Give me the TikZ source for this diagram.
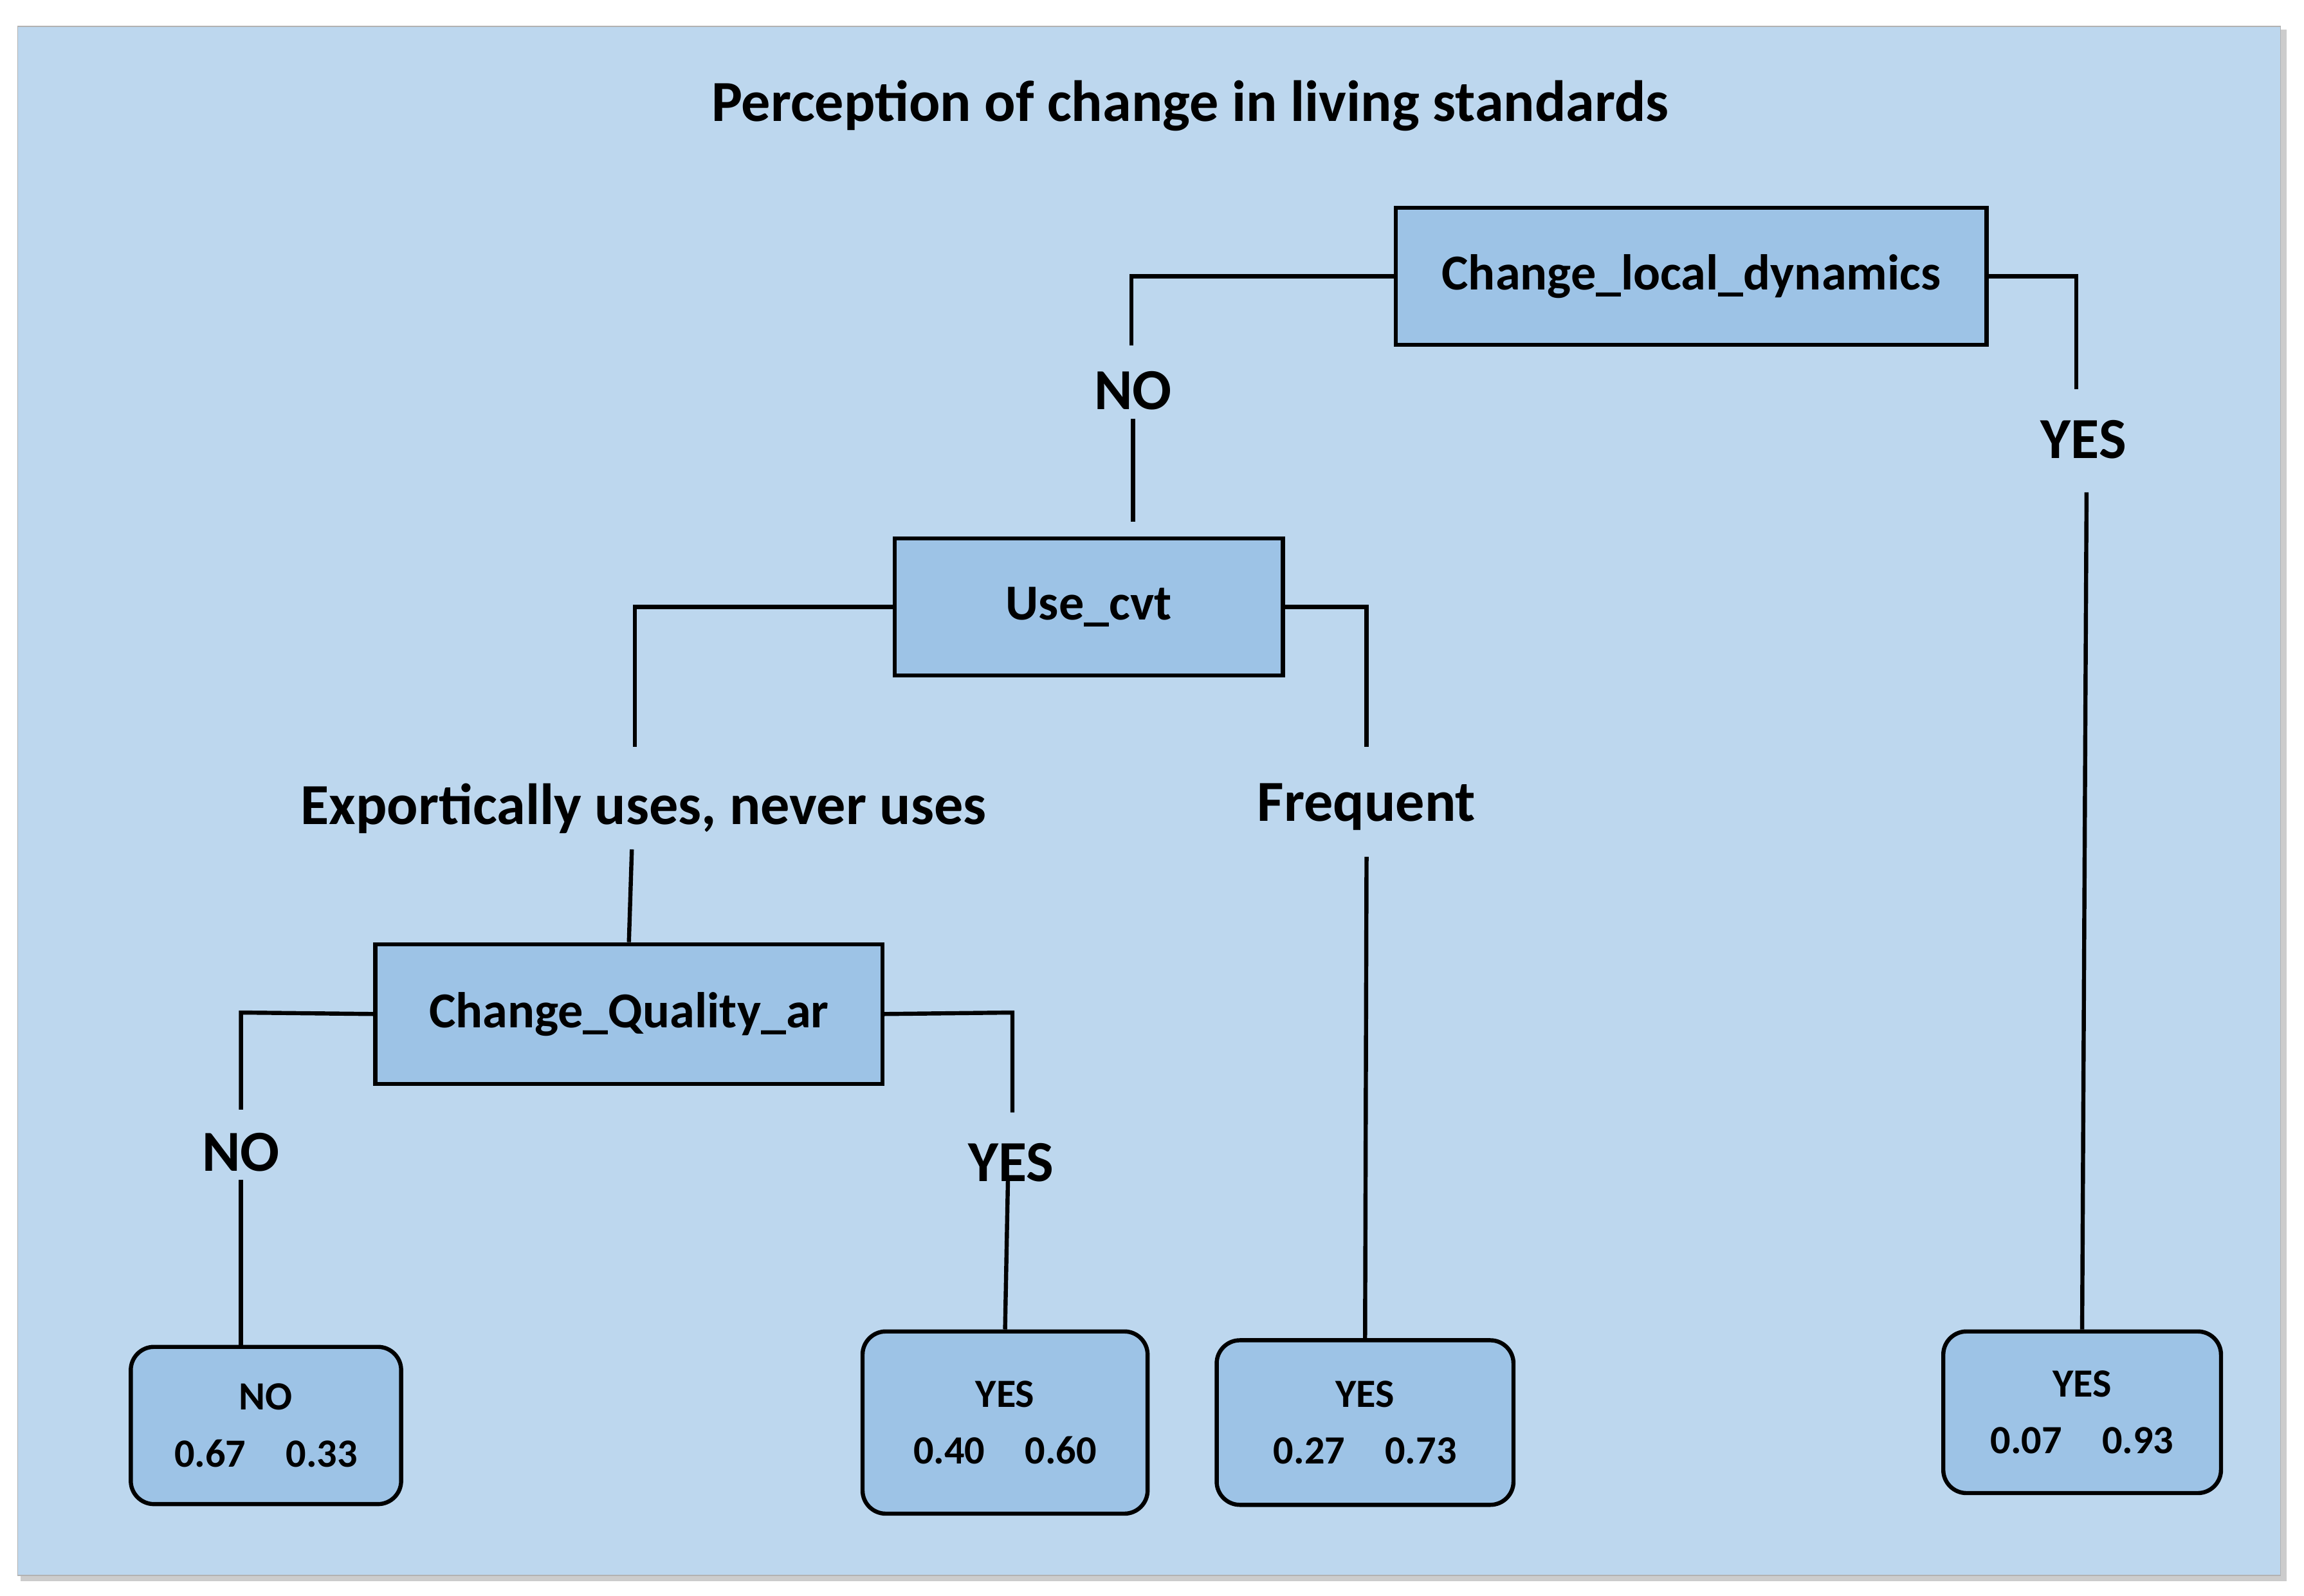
\documentclass[tikz,border=0pt]{standalone}
\usepackage{fontspec}
\setmainfont{Carlito}
\begin{document}
\begin{tikzpicture}[x=0.02cm,y=-0.02cm,
  box/.style={draw=black,line width=1.6pt,fill=boxblue,inner sep=0pt,font=\bfseries\fontsize{19.5}{22}\selectfont},
  leaf/.style={draw=black,line width=1.6pt,fill=boxblue,rounded corners=9pt,inner sep=0pt,align=center,font=\bfseries\fontsize{15.5}{22}\selectfont},
  lab/.style={font=\bfseries\fontsize{22.5}{24}\selectfont,inner sep=1pt},
  ln/.style={line width=1.6pt}]
\definecolor{bg}{HTML}{BDD7EE}
\definecolor{boxblue}{HTML}{9DC3E6}
\useasboundingbox (0,0) rectangle (1568,1086);
\fill[gray!40] (14,20) rectangle (1556,1076);
\fill[bg,draw=gray!60] (12,18) rectangle (1552,1072);
\node[lab,font=\bfseries\fontsize{22.5}{24}\selectfont] (title) at (810,72) {Perception of change in living standards};
% internal nodes
\node[box,minimum width=402*0.02cm,minimum height=93*0.02cm] (cld) at (1151,188) {Change\_local\_dynamics};
\node[box,minimum width=264*0.02cm,minimum height=93*0.02cm] (cvt) at (741,413) {Use\_cvt};
\node[box,minimum width=345*0.02cm,minimum height=95*0.02cm] (cq) at (428,690) {Change\_Quality\_ar};
% labels
\node[lab] (l1) at (771,266) {NO};
\node[lab] (l2) at (1418,299) {YES};
\node[lab] (l3) at (438,550) {Exportically uses, never uses};
\node[lab] (l4) at (930,549) {Frequent};
\node[lab] (l5) at (164,784) {NO};
\node[lab] (l6) at (688,791) {YES};
% leaves
\node[leaf,minimum width=184*0.02cm,minimum height=107*0.02cm] (f1) at (181,970) {NO\\0.67\quad 0.33};
\node[leaf,minimum width=194*0.02cm,minimum height=124*0.02cm] (f2) at (684,968) {YES\\0.40\quad 0.60};
\node[leaf,minimum width=202*0.02cm,minimum height=112*0.02cm] (f3) at (929,968) {YES\\0.27\quad 0.73};
\node[leaf,minimum width=189*0.02cm,minimum height=110*0.02cm] (f4) at (1417,961) {YES\\0.07\quad 0.93};
% connectors
\coordinate (a1) at (770,235); \coordinate (a2) at (771,285);
\draw[ln] (cld.west) -- (770,188) -- (a1);
\draw[ln] (a2) -- (771,355);
\coordinate (b1) at (1413,265); \coordinate (b2) at (1420,335);
\draw[ln] (cld.east) -- (1413,188) -- (b1);
\draw[ln] (b2) -- (f4.north);
\coordinate (c1) at (432,508); \coordinate (c2) at (430,578);
\draw[ln] (cvt.west) -- (432,413) -- (c1);
\draw[ln] (c2) -- (cq.north);
\coordinate (d1) at (930,508); \coordinate (d2) at (930,583);
\draw[ln] (cvt.east) -- (930,413) -- (d1);
\draw[ln] (d2) -- (f3.north);
\coordinate (e1) at (164,755); \coordinate (e2) at (164,803);
\draw[ln] (cq.west) -- (164,689) -- (e1);
\draw[ln] (e2) -- (164,916);
\coordinate (g1) at (689,757); \coordinate (g2) at (686,800);
\draw[ln] (cq.east) -- (689,689) -- (g1);
\draw[ln] (g2) -- (f2.north);
\end{tikzpicture}
\end{document}
